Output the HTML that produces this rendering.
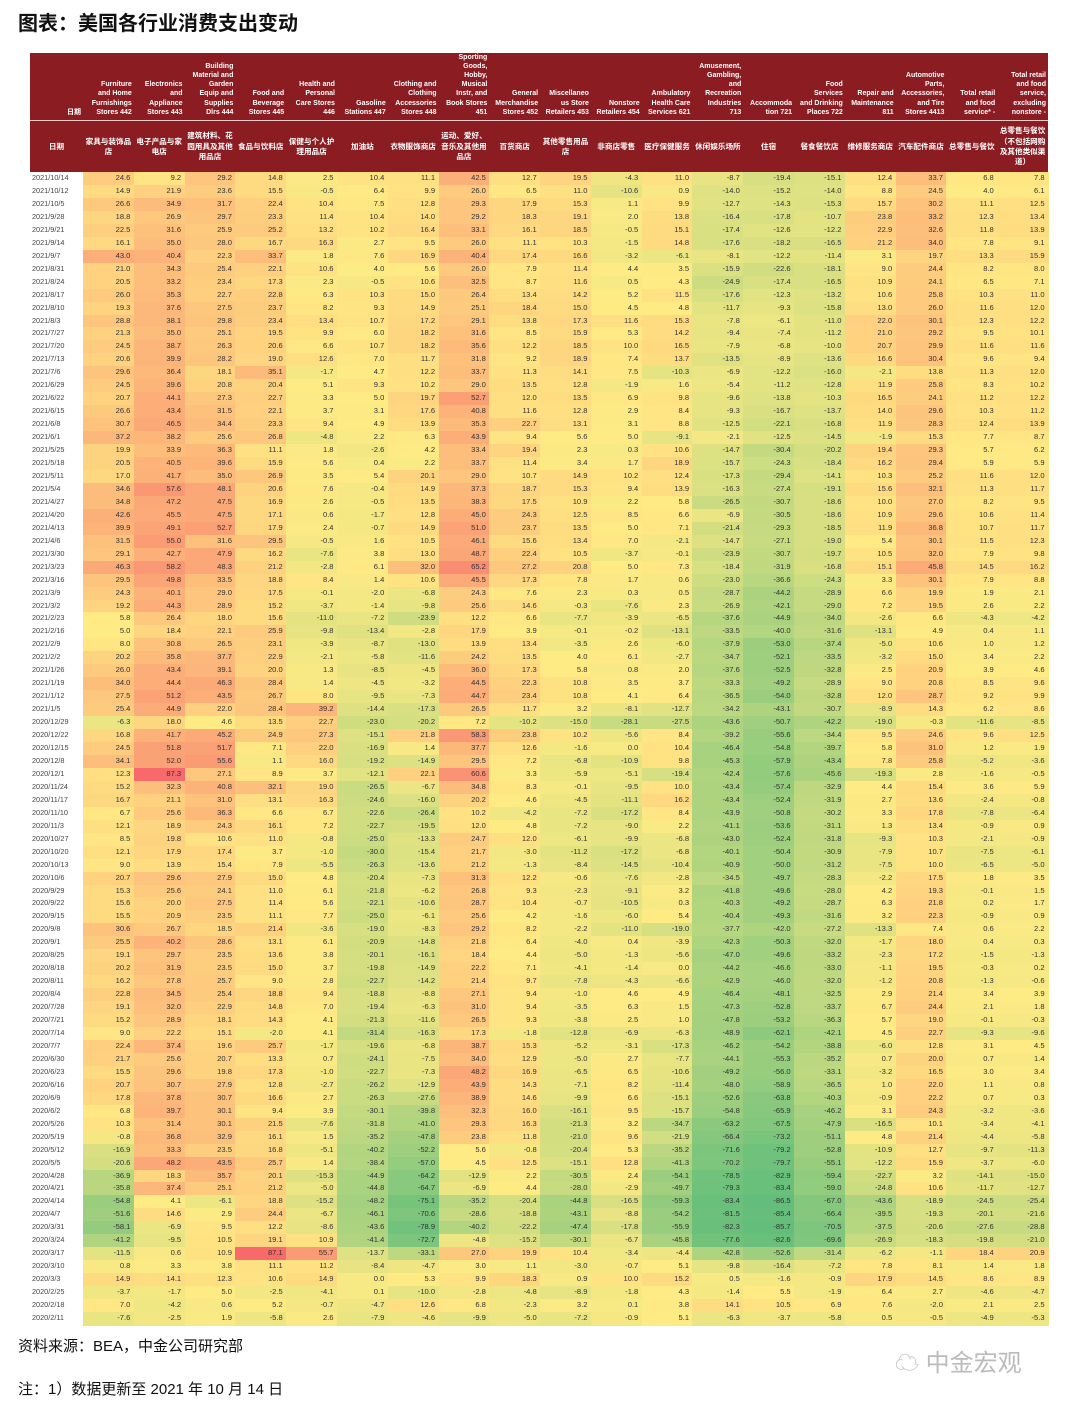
<!DOCTYPE html>
<html><head><meta charset="utf-8">
<style>
body{margin:0;width:1080px;height:1410px;background:#fff;position:relative;overflow:hidden;font-family:"Liberation Sans","Noto Sans CJK SC",sans-serif;}
.abs{position:absolute;}
#title{left:18px;top:7px;font-size:20px;font-weight:bold;color:#111;font-family:"Liberation Sans","Noto Sans CJK SC",sans-serif;}
#hdr{left:30px;top:53px;width:1018px;height:119px;background:#8b1c22;}
#sep{left:30px;top:120px;width:1018px;height:1px;background:#e9c9c9;}
.eh{position:absolute;bottom:55px;color:#fff;font-size:7px;font-weight:bold;line-height:9.2px;text-align:right;white-space:nowrap;}
.ch{position:absolute;top:68px;height:52px;display:flex;align-items:center;justify-content:center;color:#fff;font-size:7.6px;font-weight:bold;line-height:10.4px;text-align:center;}
.cell{position:absolute;font-size:7.6px;line-height:12.95px;text-align:right;color:#333;box-sizing:border-box;padding-right:4px;}
.dt{position:absolute;height:12.95px;font-size:7.3px;line-height:12.95px;color:#444;}
.foot{font-size:15px;color:#111;}
</style></head><body>
<div id="title" class="abs">图表：美国各行业消费支出变动</div>
<div id="hdr" class="abs"></div>
<div id="sep" class="abs"></div>
<div id="tbl" class="abs" style="left:0;top:0;width:1080px;height:1410px;"></div>
<div class="abs foot" style="left:18px;top:1335px;">资料来源：BEA，中金公司研究部</div>
<div class="abs foot" style="left:18px;top:1378px;">注：1）数据更新至 2021 年 10 月 14 日</div>
<div class="abs" style="left:895px;top:1343px;font-size:24px;color:#bbb;">☁ 中金宏观</div>
<script>
const engHeaders = ["日期","Furniture\nand Home\nFurnishings\nStores 442","Electronics\nand\nAppliance\nStores 443","Building\nMaterial and\nGarden\nEquip and\nSupplies\nDlrs 444","Food and\nBeverage\nStores 445","Health and\nPersonal\nCare Stores\n446","Gasoline\nStations 447","Clothing and\nClothing\nAccessories\nStores 448","Sporting\nGoods,\nHobby,\nMusical\nInstr, and\nBook Stores\n451","General\nMerchandise\nStores 452","Miscellaneo\nus Store\nRetailers 453","Nonstore\nRetailers 454","Ambulatory\nHealth Care\nServices 621","Amusement,\nGambling,\nand\nRecreation\nIndustries\n713","Accommoda\ntion 721","Food\nServices\nand Drinking\nPlaces 722","Repair and\nMaintenance\n811","Automotive\nParts,\nAccessories,\nand Tire\nStores 4413","Total retail\nand food\nservice* -","Total retail\nand food\nservice,\nexcluding\nnonstore -"];
const cnHeaders = ["日期","家具与装饰品店","电子产品与家电店","建筑材料、花园用具及其他用品店","食品与饮料店","保健与个人护理用品店","加油站","衣物服饰商店","运动、爱好、音乐及其他用品店","百货商店","其他零售用品店","非商店零售","医疗保健服务","休闲娱乐场所","住宿","餐食餐饮店","维修服务商店","汽车配件商店","总零售与餐饮","总零售与餐饮（不包括网购及其他类似渠道）"];
const dates = ["2021/10/14","2021/10/12","2021/10/5","2021/9/28","2021/9/21","2021/9/14","2021/9/7","2021/8/31","2021/8/24","2021/8/17","2021/8/10","2021/8/3","2021/7/27","2021/7/20","2021/7/13","2021/7/6","2021/6/29","2021/6/22","2021/6/15","2021/6/8","2021/6/1","2021/5/25","2021/5/18","2021/5/11","2021/5/4","2021/4/27","2021/4/20","2021/4/13","2021/4/6","2021/3/30","2021/3/23","2021/3/16","2021/3/9","2021/3/2","2021/2/23","2021/2/16","2021/2/9","2021/2/2","2021/1/26","2021/1/19","2021/1/12","2021/1/5","2020/12/29","2020/12/22","2020/12/15","2020/12/8","2020/12/1","2020/11/24","2020/11/17","2020/11/10","2020/11/3","2020/10/27","2020/10/20","2020/10/13","2020/10/6","2020/9/29","2020/9/22","2020/9/15","2020/9/8","2020/9/1","2020/8/25","2020/8/18","2020/8/11","2020/8/4","2020/7/28","2020/7/21","2020/7/14","2020/7/7","2020/6/30","2020/6/23","2020/6/16","2020/6/9","2020/6/2","2020/5/26","2020/5/19","2020/5/12","2020/5/5","2020/4/28","2020/4/21","2020/4/14","2020/4/7","2020/3/31","2020/3/24","2020/3/17","2020/3/10","2020/3/3","2020/2/25","2020/2/18","2020/2/11"];
const values = [
[24.6,9.2,29.2,14.8,2.5,10.4,11.1,42.5,12.7,19.5,-4.3,11.0,-8.7,-19.4,-15.1,12.4,33.7,6.8,7.8],
[14.9,21.9,23.6,15.5,-0.5,6.4,9.9,26.0,6.5,11.0,-10.6,0.9,-14.0,-15.2,-14.0,8.8,24.5,4.0,6.1],
[26.6,34.9,31.7,22.4,10.4,7.5,12.8,29.3,17.9,15.3,1.1,9.9,-12.7,-14.3,-15.3,15.7,30.2,11.1,12.5],
[18.8,26.9,29.7,23.3,11.4,10.4,14.0,29.2,18.3,19.1,2.0,13.8,-16.4,-17.8,-10.7,23.8,33.2,12.3,13.4],
[22.5,31.6,25.9,25.2,13.2,10.2,16.4,33.1,16.1,18.5,-0.5,15.1,-17.4,-12.6,-12.2,22.9,32.6,11.8,13.9],
[16.1,35.0,28.0,16.7,16.3,2.7,9.5,26.0,11.1,10.3,-1.5,14.8,-17.6,-18.2,-16.5,21.2,34.0,7.8,9.1],
[43.0,40.4,22.3,33.7,1.8,7.6,16.9,40.4,17.4,16.6,-3.2,-6.1,-8.1,-12.2,-11.4,3.1,19.7,13.3,15.9],
[21.0,34.3,25.4,22.1,10.6,4.0,5.6,26.0,7.9,11.4,4.4,3.5,-15.9,-22.6,-18.1,9.0,24.4,8.2,8.0],
[20.5,33.2,23.4,17.3,2.3,-0.5,10.6,32.5,8.7,11.6,0.5,4.3,-24.9,-17.4,-16.5,10.9,24.1,6.5,7.1],
[26.0,35.3,22.7,22.8,6.3,10.3,15.0,26.4,13.4,14.2,5.2,11.5,-17.6,-12.3,-13.2,10.6,25.8,10.3,11.0],
[19.3,37.6,27.5,23.7,8.2,9.3,14.9,25.1,18.4,15.0,4.5,4.8,-11.7,-9.3,-15.8,13.0,26.0,11.6,12.0],
[28.8,38.1,29.8,23.4,13.4,10.7,17.2,29.1,13.8,17.3,11.6,15.3,-7.8,-6.1,-11.0,22.0,30.1,12.3,12.2],
[21.3,35.0,25.1,19.5,9.9,6.0,18.2,31.6,8.5,15.9,5.3,14.2,-9.4,-7.4,-11.2,21.0,29.2,9.5,10.1],
[24.5,38.7,26.3,20.6,6.6,10.7,18.2,35.6,12.2,18.5,10.0,16.5,-7.9,-6.8,-10.0,20.7,29.9,11.6,11.6],
[20.6,39.9,28.2,19.0,12.6,7.0,11.7,31.8,9.2,18.9,7.4,13.7,-13.5,-8.9,-13.6,16.6,30.4,9.6,9.4],
[29.6,36.4,18.1,35.1,-1.7,4.7,12.2,33.7,11.3,14.1,7.5,-10.3,-6.9,-12.2,-16.0,-2.1,13.8,11.3,12.0],
[24.5,39.6,20.8,20.4,5.1,9.3,10.2,29.0,13.5,12.8,-1.9,1.6,-5.4,-11.2,-12.8,11.9,25.8,8.3,10.2],
[20.7,44.1,27.3,22.7,3.3,5.0,19.7,52.7,12.0,13.5,6.9,9.8,-9.6,-13.8,-10.3,16.5,24.1,11.2,12.2],
[26.6,43.4,31.5,22.1,3.7,3.1,17.6,40.8,11.6,12.8,2.9,8.4,-9.3,-16.7,-13.7,14.0,29.6,10.3,11.2],
[30.7,46.5,34.4,23.3,9.4,4.9,13.9,35.3,22.7,13.1,3.1,8.8,-12.5,-22.1,-16.8,11.9,28.3,12.4,13.9],
[37.2,38.2,25.6,26.8,-4.8,2.2,6.3,43.9,9.4,5.6,5.0,-9.1,-2.1,-12.5,-14.5,-1.9,15.3,7.7,8.7],
[19.9,33.9,36.3,11.1,1.8,-2.6,4.2,33.4,19.4,2.3,0.3,10.6,-14.7,-30.4,-20.2,19.4,29.3,5.7,6.2],
[20.5,40.5,39.6,15.9,5.6,0.4,2.2,33.7,11.4,3.4,1.7,18.9,-15.7,-24.3,-18.4,16.2,29.4,5.9,5.9],
[17.0,41.7,35.0,26.9,3.5,5.4,20.1,29.0,10.7,14.9,10.2,12.4,-17.3,-29.4,-14.1,10.3,25.2,11.6,12.0],
[34.6,57.6,48.1,20.6,7.6,-0.4,14.9,37.3,18.7,15.3,9.4,13.9,-16.3,-27.4,-19.1,15.6,32.1,11.3,11.7],
[34.8,47.2,47.5,16.9,2.6,-0.5,13.5,38.3,17.5,10.9,2.2,5.8,-26.5,-30.7,-18.6,10.0,27.0,8.2,9.5],
[42.6,45.5,47.5,17.1,0.6,-1.7,12.8,45.0,24.3,12.5,8.5,6.6,-6.9,-30.5,-18.6,10.9,29.6,10.6,11.4],
[39.9,49.1,52.7,17.9,2.4,-0.7,14.9,51.0,23.7,13.5,5.0,7.1,-21.4,-29.3,-18.5,11.9,36.8,10.7,11.7],
[31.5,55.0,31.6,29.5,-0.5,1.6,10.5,46.1,15.6,13.4,7.0,-2.1,-14.7,-27.1,-19.0,5.4,30.1,11.5,12.3],
[29.1,42.7,47.9,16.2,-7.6,3.8,13.0,48.7,22.4,10.5,-3.7,-0.1,-23.9,-30.7,-19.7,10.5,32.0,7.9,9.8],
[46.3,58.2,48.3,21.2,-2.8,6.1,32.0,65.2,27.2,20.8,5.0,7.3,-18.4,-31.9,-16.8,15.1,45.8,14.5,16.2],
[29.5,49.8,33.5,18.8,8.4,1.4,10.6,45.5,17.3,7.8,1.7,0.6,-23.0,-36.6,-24.3,3.3,30.1,7.9,8.8],
[24.3,40.1,29.0,17.5,-0.1,-2.0,-6.8,24.3,7.6,2.3,0.3,0.5,-28.7,-44.2,-28.9,6.6,19.9,1.9,2.1],
[19.2,44.3,28.9,15.2,-3.7,-1.4,-9.8,25.6,14.6,-0.3,-7.6,2.3,-26.9,-42.1,-29.0,7.2,19.5,2.6,2.2],
[5.8,26.4,18.0,15.6,-11.0,-7.2,-23.9,12.2,6.6,-7.7,-3.9,-6.5,-37.6,-44.9,-34.0,-2.6,6.6,-4.3,-4.2],
[5.0,18.4,22.1,25.9,-9.8,-13.4,-2.8,17.9,3.9,-0.1,-0.2,-13.1,-33.5,-40.0,-31.6,-13.1,4.9,0.4,1.1],
[8.0,30.8,26.5,23.1,-3.9,-8.7,-13.0,13.9,13.4,-3.5,2.6,-6.0,-37.9,-53.0,-37.4,-5.0,10.6,1.0,1.2],
[20.2,35.8,37.7,22.9,-2.1,-5.8,-11.6,24.2,13.5,4.0,6.1,-2.7,-34.7,-52.1,-33.5,-3.2,15.0,3.4,2.2],
[26.0,43.4,39.1,20.0,1.3,-8.5,-4.5,36.0,17.3,5.8,0.8,2.0,-37.6,-52.5,-32.8,2.5,20.9,3.9,4.6],
[34.0,44.4,46.3,28.4,1.4,-4.5,-3.2,44.5,22.3,10.8,3.5,3.7,-33.3,-49.2,-28.9,9.0,20.8,8.5,9.6],
[27.5,51.2,43.5,26.7,8.0,-9.5,-7.3,44.7,23.4,10.8,4.1,6.4,-36.5,-54.0,-32.8,12.0,28.7,9.2,9.9],
[25.4,44.9,22.0,28.4,39.2,-14.4,-17.3,26.5,11.7,3.2,-8.1,-12.7,-34.2,-43.1,-30.7,-8.9,14.3,6.2,8.6],
[-6.3,18.0,4.6,13.5,22.7,-23.0,-20.2,7.2,-10.2,-15.0,-28.1,-27.5,-43.6,-50.7,-42.2,-19.0,-0.3,-11.6,-8.5],
[16.8,41.7,45.2,24.9,27.3,-15.1,21.8,58.3,23.8,10.2,-5.6,8.4,-39.2,-55.6,-34.4,9.5,24.6,9.6,12.5],
[24.5,51.8,51.7,7.1,22.0,-16.9,1.4,37.7,12.6,-1.6,0.0,10.4,-46.4,-54.8,-39.7,5.8,31.0,1.2,1.9],
[34.1,52.0,55.6,1.1,16.0,-19.2,-14.9,29.5,7.2,-6.8,-10.9,9.8,-45.3,-57.9,-43.4,7.8,25.8,-5.2,-3.6],
[12.3,87.3,27.1,8.9,3.7,-12.1,22.1,60.6,3.3,-5.9,-5.1,-19.4,-42.4,-57.6,-45.6,-19.3,2.8,-1.6,-0.5],
[15.2,32.3,40.8,32.1,19.0,-26.5,-6.7,34.8,8.3,-0.1,-9.5,10.0,-43.4,-57.4,-32.9,4.4,15.4,3.6,5.9],
[16.7,21.1,31.0,13.1,16.3,-24.6,-16.0,20.2,4.6,-4.5,-11.1,16.2,-43.4,-52.4,-31.9,2.7,13.6,-2.4,-0.8],
[6.7,25.6,36.3,6.6,6.7,-22.6,-26.4,10.2,-4.2,-7.2,-17.2,8.4,-43.9,-50.8,-30.2,3.3,17.8,-7.8,-6.4],
[12.1,18.9,24.3,16.1,7.2,-22.7,-19.5,12.0,4.8,-7.2,-9.0,2.2,-41.1,-53.6,-31.1,1.3,13.4,-0.9,0.9],
[8.5,19.8,10.6,11.0,-0.8,-25.0,-13.3,24.7,12.0,-6.1,-9.9,-6.8,-43.0,-52.4,-31.8,-9.3,10.3,-2.1,-0.9],
[12.1,17.9,17.4,3.7,-1.0,-30.0,-15.4,21.7,-3.0,-11.2,-17.2,-6.8,-40.1,-50.4,-30.9,-7.9,10.7,-7.5,-6.1],
[9.0,13.9,15.4,7.9,-5.5,-26.3,-13.6,21.2,-1.3,-8.4,-14.5,-10.4,-40.9,-50.0,-31.2,-7.5,10.0,-6.5,-5.0],
[20.7,29.6,27.9,15.0,4.8,-20.4,-7.3,31.3,12.2,-0.6,-7.6,-2.8,-34.5,-49.7,-28.3,-2.2,17.5,1.8,3.5],
[15.3,25.6,24.1,11.0,6.1,-21.8,-6.2,26.8,9.3,-2.3,-9.1,3.2,-41.8,-49.6,-28.0,4.2,19.3,-0.1,1.5],
[15.6,20.0,27.5,11.4,5.6,-22.1,-10.6,28.7,10.4,-0.7,-10.5,0.3,-40.3,-49.2,-28.7,6.3,21.8,0.2,1.7],
[15.5,20.9,23.5,11.1,7.7,-25.0,-6.1,25.6,4.2,-1.6,-6.0,5.4,-40.4,-49.3,-31.6,3.2,22.3,-0.9,0.9],
[30.6,26.7,18.5,21.4,-3.6,-19.0,-8.3,29.2,8.2,-2.2,-11.0,-19.0,-37.7,-42.0,-27.2,-13.3,7.4,0.6,2.2],
[25.5,40.2,28.6,13.1,6.1,-20.9,-14.8,21.8,6.4,-4.0,0.4,-3.9,-42.3,-50.3,-32.0,-1.7,18.0,0.4,0.3],
[19.1,29.7,23.5,13.6,3.8,-20.1,-16.1,18.4,4.4,-5.0,-1.3,-5.6,-47.0,-49.6,-33.2,-2.3,17.2,-1.5,-1.3],
[20.2,31.9,23.5,15.0,3.7,-19.8,-14.9,22.2,7.1,-4.1,-1.4,0.0,-44.2,-46.6,-33.0,-1.1,19.5,-0.3,0.2],
[16.2,27.8,25.7,9.0,2.8,-22.7,-14.2,21.4,9.7,-7.8,-4.3,-6.6,-42.9,-46.0,-32.0,-1.2,20.8,-1.3,-0.6],
[22.8,34.5,25.4,18.8,9.4,-18.8,-8.8,27.1,9.4,-1.0,4.6,4.9,-46.4,-48.1,-32.5,2.9,21.4,3.4,3.9],
[19.1,32.0,22.9,14.8,7.0,-19.4,-6.3,31.0,9.4,-3.5,6.3,1.5,-47.3,-52.8,-33.7,6.7,24.4,2.1,1.8],
[15.2,28.9,18.1,14.3,4.1,-21.3,-11.6,26.5,9.3,-3.8,2.5,1.0,-47.8,-53.2,-36.3,5.7,19.0,-0.1,-0.3],
[9.0,22.2,15.1,-2.0,4.1,-31.4,-16.3,17.3,-1.8,-12.8,-6.9,-6.3,-48.9,-62.1,-42.1,4.5,22.7,-9.3,-9.6],
[22.4,37.4,19.6,25.7,-1.7,-19.6,-6.8,38.7,15.3,-5.2,-3.1,-17.3,-46.2,-54.2,-38.8,-6.0,12.8,3.1,4.5],
[21.7,25.6,20.7,13.3,0.7,-24.1,-7.5,34.0,12.9,-5.0,2.7,-7.7,-44.1,-55.3,-35.2,0.7,20.0,0.7,1.4],
[15.5,29.6,19.8,17.3,-1.0,-22.7,-7.3,48.2,16.9,-6.5,6.5,-10.6,-49.2,-56.0,-33.1,-3.2,16.5,3.0,3.4],
[20.7,30.7,27.9,12.8,-2.7,-26.2,-12.9,43.9,14.3,-7.1,8.2,-11.4,-48.0,-58.9,-36.5,1.0,22.0,1.1,0.8],
[17.8,37.8,30.7,16.6,2.7,-26.3,-27.6,38.9,14.6,-9.9,6.6,-15.1,-52.6,-63.8,-40.3,-0.9,22.2,0.7,0.3],
[6.8,39.7,30.1,9.4,3.9,-30.1,-39.8,32.3,16.0,-16.1,9.5,-15.7,-54.8,-65.9,-46.2,3.1,24.3,-3.2,-3.6],
[10.3,31.4,30.1,21.5,-7.6,-31.8,-41.0,29.3,16.3,-21.3,3.2,-34.7,-63.2,-67.5,-47.9,-16.5,10.1,-3.4,-4.1],
[-0.8,36.8,32.9,16.1,1.5,-35.2,-47.8,23.8,11.8,-21.0,9.6,-21.9,-66.4,-73.2,-51.1,4.8,21.4,-4.4,-5.8],
[-16.9,33.3,23.5,16.8,-5.1,-40.2,-52.2,5.6,-0.8,-20.4,5.3,-35.2,-71.6,-79.2,-52.8,-10.9,12.7,-9.7,-11.3],
[-20.6,48.2,43.5,25.7,1.4,-38.4,-57.0,4.5,12.5,-15.1,12.8,-41.3,-70.2,-79.7,-55.1,-12.2,15.9,-3.7,-6.0],
[-36.9,18.3,35.7,20.1,-15.3,-44.9,-64.2,-12.9,2.2,-30.5,2.4,-54.1,-78.5,-82.9,-59.4,-22.7,3.2,-14.1,-15.0],
[-35.8,37.4,25.1,21.2,-5.0,-44.8,-64.7,-6.9,4.4,-28.0,-2.9,-49.7,-79.3,-83.4,-59.0,-24.8,10.6,-11.7,-12.7],
[-54.8,4.1,-6.1,18.8,-15.2,-48.2,-75.1,-35.2,-20.4,-44.8,-16.5,-59.3,-83.4,-86.5,-67.0,-43.6,-18.9,-24.5,-25.4],
[-51.6,14.6,2.9,24.4,-6.7,-46.1,-70.6,-28.6,-18.8,-43.1,-8.8,-54.2,-81.5,-85.4,-66.4,-39.5,-19.3,-20.1,-21.6],
[-58.1,-6.9,9.5,12.2,-8.6,-43.6,-78.9,-40.2,-22.2,-47.4,-17.8,-55.9,-82.3,-85.7,-70.5,-37.5,-20.6,-27.6,-28.8],
[-41.2,-9.5,10.5,19.1,10.9,-41.4,-72.7,-4.8,-15.2,-30.1,-6.7,-45.8,-77.6,-82.6,-69.6,-26.9,-18.3,-19.8,-21.0],
[-11.5,0.6,10.9,87.1,55.7,-13.7,-33.1,27.0,19.9,10.4,-3.4,-4.4,-42.8,-52.6,-31.4,-6.2,-1.1,18.4,20.9],
[0.8,3.3,3.8,11.1,11.2,-8.4,-4.7,3.0,1.1,-3.0,-0.7,5.1,-9.8,-16.4,-7.2,7.8,8.1,1.4,1.8],
[14.9,14.1,12.3,10.6,14.9,0.0,5.3,9.9,18.3,0.9,10.0,15.2,0.5,-1.6,-0.9,17.9,14.5,8.6,8.9],
[-3.7,-1.7,5.0,-2.5,-4.1,0.1,-10.0,-2.8,-4.8,-8.9,-1.8,4.3,-1.4,5.5,-1.9,6.4,2.7,-4.6,-4.7],
[7.0,-4.2,0.6,5.2,-0.7,-4.7,12.6,6.8,-2.3,3.2,0.1,3.8,14.1,10.5,6.9,7.6,-2.0,2.1,2.5],
[-7.6,-2.5,1.9,-5.8,2.6,-7.9,-4.6,-9.9,-5.0,-7.2,-0.9,5.1,-6.3,-3.7,-5.8,0.5,-0.5,-4.9,-5.3]
];
const colorStops = ["#63BE7B","#FFEB84","#F8696B"];

const tbl = document.getElementById('tbl');
const hdr = document.getElementById('hdr');
const X0 = 83, CW = (1048-83)/19, Y0 = 172, RH = (1312-172)/88;
function colX(i){ return X0 + i*CW; }
function rowY(r){ return Y0 + r*RH; }

for (let i=0;i<engHeaders.length;i++){
  const e = document.createElement('div');
  e.className='eh';
  
  
  const left = i===0 ? 0 : colX(i-1)-30;
  const w = i===0 ? 53 : CW;
  e.style.left = left+'px'; e.style.width=(w-2)+'px';
  e.innerHTML = engHeaders[i].split('\n').join('<br>');
  hdr.appendChild(e);
  const c = document.createElement('div');
  c.className='ch';
  
  
  c.style.left = left+'px'; c.style.width=w+'px';
  c.innerHTML = '<span style="display:block;padding:0 2px">'+cnHeaders[i]+'</span>';
  hdr.appendChild(c);
}

const all = values.flat().slice().sort((a,b)=>a-b);
const vmin = all[0], vmax = all[all.length-1], vmid = all[Math.floor(all.length/2)];
function hex(h){return [parseInt(h.slice(1,3),16),parseInt(h.slice(3,5),16),parseInt(h.slice(5,7),16)];}
function mix(a,b,t){a=hex(a);b=hex(b);return 'rgb('+a.map((v,k)=>Math.round(v+(b[k]-v)*t)).join(',')+')';}
function colorFor(v){
  if (v<=vmid) return mix(colorStops[0],colorStops[1],(v-vmin)/(vmid-vmin));
  return mix(colorStops[1],colorStops[2],(v-vmid)/(vmax-vmid));
}

for (let r=0;r<dates.length;r++){
  const d = document.createElement('div');
  d.className='dt';
  
  
  d.style.left='32px'; d.style.top=rowY(r)+'px';
  d.textContent = dates[r];
  tbl.appendChild(d);
  for (let c=0;c<values[r].length;c++){
    const v = values[r][c];
    const cell = document.createElement('div');
    cell.className='cell';
    
    
    cell.style.left = colX(c)+'px';
    cell.style.top = rowY(r)+'px';
    cell.style.width = (CW+0.6)+'px';
    cell.style.height = (RH+0.6)+'px';
    cell.style.background = colorFor(v);
    cell.textContent = v.toFixed(1);
    tbl.appendChild(cell);
  }
}
</script>
</body></html>
